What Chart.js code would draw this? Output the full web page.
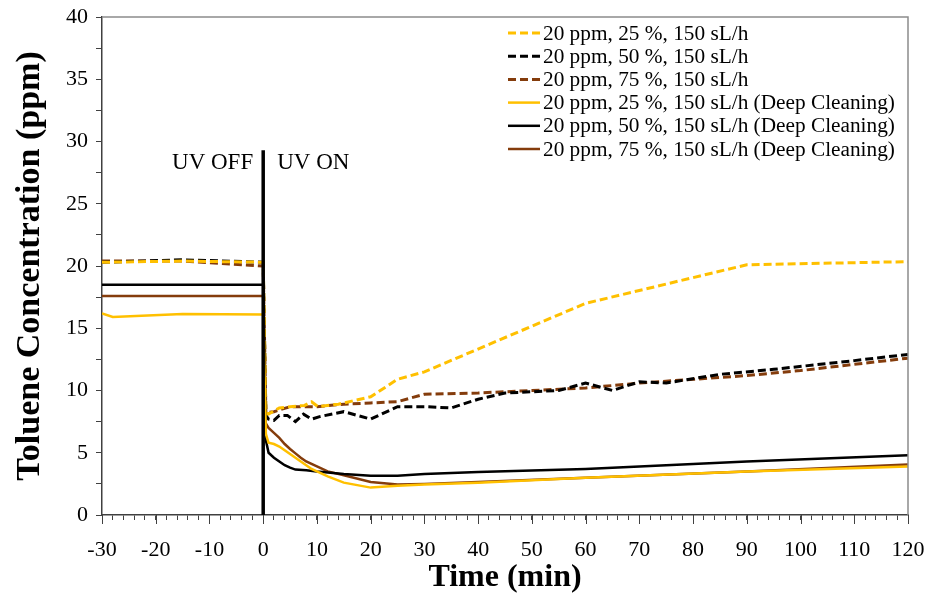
<!DOCTYPE html>
<html>
<head>
<meta charset="utf-8">
<script src="https://cdn.jsdelivr.net/npm/chart.js@4/dist/chart.umd.min.js"></script>
<style>
  html, body { margin: 0; padding: 0; background: #fff; }
  #wrap { width: 931px; height: 597px; }
</style>
</head>
<body>
<div id="wrap"><canvas id="tolueneChart" width="931" height="597"></canvas></div>
<script>
// time (min) and toluene concentration (ppm)
const tDash25 = [-30, -15, 0, 0.5, 1, 3, 5, 7.7, 9, 10.2, 14, 20, 25, 30, 60, 90, 120];
const vDash25 = [20.3, 20.4, 20.3, 8.2, 8.1, 8.6, 8.7, 8.8, 9.1, 8.7, 8.9, 9.5, 10.9, 11.5, 17.0, 20.1, 20.35];

const tDash50 = [-30, -15, 0, 0.5, 1, 2, 3, 4.5, 6, 7.5, 9, 10.5, 15, 20, 25, 30, 35, 40, 45, 55, 60, 65, 70, 75, 85, 95, 110, 120];
const vDash50 = [20.3, 20.5, 20.3, 8.0, 7.7, 7.6, 8.0, 8.0, 7.5, 8.1, 7.7, 7.9, 8.3, 7.7, 8.7, 8.7, 8.6, 9.3, 9.8, 10.0, 10.6, 10.0, 10.7, 10.6, 11.3, 11.7, 12.4, 12.9];

const tDash75 = [-30, -15, 0, 0.5, 2, 5, 10, 15, 20, 25, 30, 40, 50, 60, 70, 80, 90, 100, 110, 120];
const vDash75 = [20.4, 20.4, 20.0, 8.2, 8.3, 8.7, 8.7, 8.9, 9.0, 9.1, 9.7, 9.8, 10.0, 10.2, 10.6, 10.9, 11.2, 11.6, 12.1, 12.6];

const tDeep25 = [-30, -28, -15, 0, 0.5, 1, 2, 3, 4, 5, 6, 7, 8, 9, 10, 12, 15, 20, 25, 30, 40, 60, 90, 120];
const vDeep25 = [16.2, 15.9, 16.15, 16.1, 6.5, 5.8, 5.7, 5.5, 5.2, 4.9, 4.6, 4.3, 4.0, 3.7, 3.5, 3.1, 2.6, 2.2, 2.35, 2.45, 2.6, 3.0, 3.5, 3.9];

const tDeep50 = [-30, 0, 0.5, 1, 2, 3, 4, 5, 6, 8, 10, 15, 20, 25, 30, 40, 60, 90, 120];
const vDeep50 = [18.5, 18.5, 6.0, 5.0, 4.6, 4.3, 4.0, 3.8, 3.65, 3.6, 3.5, 3.3, 3.15, 3.15, 3.3, 3.45, 3.7, 4.3, 4.8];

const tDeep75 = [-30, 0, 0.3, 1, 2, 3, 4, 5, 6, 7, 8, 10, 12, 15, 20, 25, 30, 40, 60, 90, 120];
const vDeep75 = [17.6, 17.6, 7.5, 7.0, 6.6, 6.2, 5.7, 5.3, 4.95, 4.6, 4.3, 3.9, 3.5, 3.2, 2.65, 2.45, 2.5, 2.65, 3.0, 3.5, 4.05];

// UV switch marker at t = 0
const tUV = [0, 0];
const vUV = [0, 29.3];

const seriesLabels = [
  '20 ppm, 25 %, 150 sL/h',
  '20 ppm, 50 %, 150 sL/h',
  '20 ppm, 75 %, 150 sL/h',
  '20 ppm, 25 %, 150 sL/h (Deep Cleaning)',
  '20 ppm, 50 %, 150 sL/h (Deep Cleaning)',
  '20 ppm, 75 %, 150 sL/h (Deep Cleaning)'
];
const xTicks = [-30, -20, -10, 0, 10, 20, 30, 40, 50, 60, 70, 80, 90, 100, 110, 120];
const yTicks = [0, 5, 10, 15, 20, 25, 30, 35, 40];

const YELLOW = '#FFC000';
const BLACK = '#000000';
const BROWN = '#843C0C';
const SERIF = '"Liberation Serif", "Times New Roman", serif';

const pts = (ts, vs) => ts.map((t, i) => ({ x: t, y: vs[i] }));

function series(label, ts, vs, color, dashed) {
  return {
    label,
    data: pts(ts, vs),
    borderColor: color,
    backgroundColor: color,
    borderWidth: dashed ? 3 : 2.5,
    borderDash: dashed ? [8, 4] : [],
    pointRadius: 0,
    tension: 0,
    fill: false,
    inLegend: true
  };
}

const datasets = [
  {
    label: 'UV',
    data: pts(tUV, vUV),
    borderColor: BLACK,
    borderWidth: 3.5,
    pointRadius: 0,
    inLegend: false
  },
  series(seriesLabels[3], tDeep25, vDeep25, YELLOW, false),
  series(seriesLabels[4], tDeep50, vDeep50, BLACK, false),
  series(seriesLabels[5], tDeep75, vDeep75, BROWN, false),
  series(seriesLabels[0], tDash25, vDash25, YELLOW, true),
  series(seriesLabels[1], tDash50, vDash50, BLACK, true),
  series(seriesLabels[2], tDash75, vDash75, BROWN, true)
];

// frame, longer major x ticks, UV labels and the legend
const decorations = {
  id: 'decorations',
  afterDraw(chart) {
    const { ctx, chartArea: a, scales: { x } } = chart;
    ctx.save();
    ctx.strokeStyle = '#8c8c8c';
    ctx.lineWidth = 1.5;
    ctx.beginPath();
    ctx.moveTo(a.left, a.top);
    ctx.lineTo(a.right, a.top);
    ctx.lineTo(a.right, a.bottom);
    ctx.stroke();

    ctx.strokeStyle = '#404040';
    ctx.lineWidth = 1;
    xTicks.forEach(t => {
      const px = Math.round(x.getPixelForValue(t)) + 0.5;
      ctx.beginPath();
      ctx.moveTo(px, a.bottom);
      ctx.lineTo(px, a.bottom + 9);
      ctx.stroke();
    });

    ctx.fillStyle = '#000';
    ctx.font = '23px ' + SERIF;
    ctx.textBaseline = 'middle';
    ctx.textAlign = 'right';
    const x0 = x.getPixelForValue(0);
    ctx.fillText('UV OFF', x0 - 10, 163);
    ctx.textAlign = 'left';
    ctx.fillText('UV ON', x0 + 14, 163);

    const items = chart.data.datasets.filter(d => d.inLegend);
    const order = seriesLabels.map(l => items.find(d => d.label === l));
    ctx.font = '21.3px ' + SERIF;
    order.forEach((d, i) => {
      const cy = 33 + i * 23.2;
      ctx.strokeStyle = d.borderColor;
      ctx.lineWidth = d.borderWidth;
      ctx.setLineDash(d.borderDash);
      ctx.beginPath();
      ctx.moveTo(508, cy);
      ctx.lineTo(540, cy);
      ctx.stroke();
      ctx.setLineDash([]);
      ctx.fillStyle = '#000';
      ctx.fillText(d.label, 543, cy + 1);
    });
    ctx.restore();
  }
};

new Chart(document.getElementById('tolueneChart').getContext('2d'), {
  type: 'line',
  data: { datasets },
  plugins: [decorations],
  options: {
    responsive: false,
    animation: false,
    layout: { padding: { left: 0, right: 23, top: 17, bottom: 0 } },
    plugins: {
      legend: { display: false },
      tooltip: { enabled: false }
    },
    scales: {
      x: {
        type: 'linear',
        min: -30,
        max: 120,
        afterFit: s => {
          s.height = 82;
          s.paddingLeft = 0;
          s.paddingRight = 0;
        },
        afterBuildTicks: s => {
          s.ticks = [];
          for (let t = -30; t <= 120; t += 2) s.ticks.push({ value: t });
        },
        border: { color: '#404040', width: 1.5 },
        grid: { drawOnChartArea: false, drawTicks: true, tickLength: 5, color: '#404040' },
        ticks: {
          color: '#000',
          font: { family: SERIF, size: 22 },
          padding: 17,
          maxRotation: 0,
          autoSkip: false,
          callback: v => (xTicks.includes(v) ? String(v) : '')
        },
        title: {
          display: true,
          text: 'Time (min)',
          color: '#000',
          font: { family: SERIF, size: 32, weight: 'bold' },
          padding: { top: 0, bottom: 0 }
        }
      },
      y: {
        min: 0,
        max: 40,
        afterFit: s => {
          s.width = 102;
          s.paddingTop = 0;
          s.paddingBottom = 0;
        },
        afterBuildTicks: s => {
          s.ticks = [];
          for (let v = 0; v <= 40; v += 2.5) s.ticks.push({ value: v });
        },
        border: { color: '#404040', width: 1.5 },
        grid: { drawOnChartArea: false, drawTicks: true, tickLength: 6, color: '#404040' },
        ticks: {
          color: '#000',
          font: { family: SERIF, size: 22 },
          padding: 8,
          autoSkip: false,
          callback: v => (yTicks.includes(v) ? String(v) : '')
        },
        title: {
          display: true,
          text: 'Toluene Concentration (ppm)',
          color: '#000',
          font: { family: SERIF, size: 34, weight: 'bold' },
          padding: { top: 10, bottom: 0 }
        }
      }
    }
  }
});
</script>
</body>
</html>
